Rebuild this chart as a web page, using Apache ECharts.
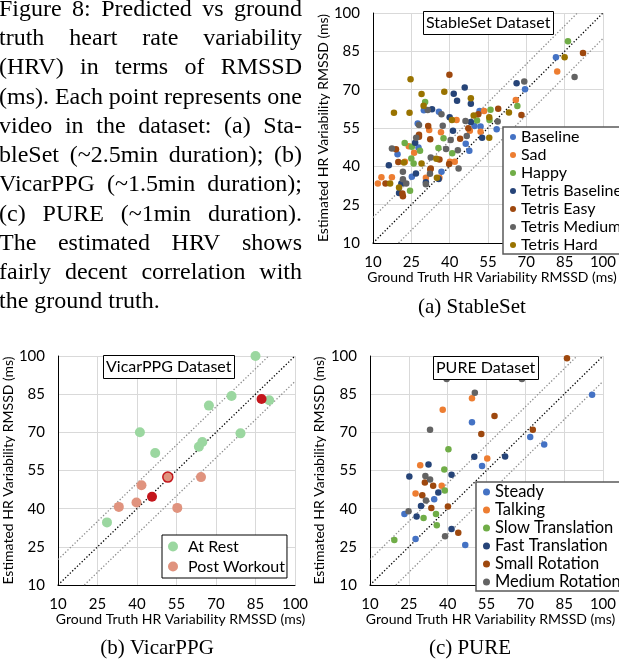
<!DOCTYPE html>
<html>
<head>
<meta charset="utf-8">
<script src="https://cdn.jsdelivr.net/npm/echarts@6/dist/echarts.min.js"></script>
<style>
  html, body { margin: 0; padding: 0; background: #fff; }
  #chart { width: 619px; height: 661px; }
</style>
</head>
<body>
<div id="chart"></div>
<script>
// ---- data ----
var axisTicks = { min: 10, max: 100, step: 15 };

var captionLines = [
  "Figure 8: Predicted vs ground",
  "truth heart rate variability",
  "(HRV) in terms of RMSSD",
  "(ms). Each point represents one",
  "video in the dataset: (a) Sta-",
  "bleSet (~2.5min duration); (b)",
  "VicarPPG (~1.5min duration);",
  "(c) PURE (~1min duration).",
  "The estimated HRV shows",
  "fairly decent correlation with",
  "the ground truth."
];

// reference lines: y = x, y = x + 10, y = x - 10
var identityLine = [[10, 10], [100, 100]];
var upperLine = [[10, 20], [90, 100]];
var lowerLine = [[20, 10], [100, 90]];

// (a) StableSet
var baseline = [[81.6,82.7],[69.5,70.2],[29.9,61.9],[35.8,61.4],[51.7,61.7],[27.5,56.8],[49.7,55.8],[52.1,55.6],
  [46.3,48.8],[47.7,46.1],[19.6,44.7],[27.8,47.4],[25.2,35.9],[36.8,37.9],[58.4,54.5]];
var sad = [[82.1,77.1],[65.9,66.0],[53.5,61.7],[42.7,58.1],[32.0,54.2],[47.9,53.9],[36.6,53.3],[24.0,47.9],
  [26.1,45.3],[40.1,41.8],[42.0,41.8],[22.5,41.8],[13.3,35.7],[17.4,35.7],[11.9,33.3],[30.7,35.5],[36.0,35.5],[52.1,53.5]];
var happy = [[86.3,88.9],[30.4,65.2],[56.0,62.1],[66.5,63.6],[55.6,58.1],[50.7,57.9],[37.6,51.0],[22.4,49.1],
  [25.2,47.7],[28.4,46.1],[35.6,47.2],[41.0,45.1],[25.0,43.1],[25.9,41.1],[24.5,30.4]];
var tetrisBaseline = [[66.2,72.5],[45.9,70.8],[41.6,68.4],[42.9,65.7],[48.3,64.5],[33.1,62.3],[40.0,59.2],[48.3,57.3],
  [41.3,53.9],[52.7,51.2],[26.5,49.2],[16.2,40.4],[26.8,37.2],[30.7,33.8],[20.2,29.6],[35.7,35.0],[21.1,33.3]];
var tetrisEasy = [[92.2,84.3],[39.9,75.8],[59.0,62.5],[68.1,60.1],[51.2,60.4],[31.6,55.8],[28.0,51.6],[32.4,50.6],
  [44.1,50.8],[19.0,46.7],[19.9,41.7],[32.6,39.2],[36.0,42.7],[39.8,40.9],[14.9,33.3],[21.5,29.4],[21.7,28.3],
  [32.4,38.8],[47.3,54.9],[28.0,52.4]];
var tetrisMedium = [[88.9,75.0],[69.2,73.2],[31.4,62.0],[36.8,60.4],[37.3,55.9],[46.2,57.7],[28.0,56.2],[26.9,51.2],
  [40.4,50.3],[46.7,51.9],[43.2,46.3],[17.4,47.0],[38.6,46.8],[32.6,43.5],[21.7,37.9],[21.7,34.9],[23.0,33.3],
  [30.7,33.0],[32.3,37.1],[43.5,39.2],[58.8,57.5]];
var tetrisHard = [[85.0,82.7],[24.7,74.1],[37.9,69.2],[29.0,68.3],[48.3,66.6],[29.8,63.7],[18.2,61.0],[24.3,61.0],
  [49.4,59.9],[55.5,59.2],[40.9,58.1],[63.2,61.1],[55.5,51.2],[22.1,41.5],[29.0,41.1],[34.8,43.0],[16.7,33.3],
  [20.2,31.7],[35.0,35.5]];

// (b) VicarPPG
var atRest = [[85,100],[75.9,84.3],[67.3,80.5],[90.2,82.6],[41.1,70.0],[79.3,69.6],[64.8,66.2],[63.5,64.3],[46.9,61.9],[28.6,34.6]];
var postWorkout = [[33.1,40.7],[39.8,42.4],[41.7,49.2],[55.3,40.3],[64.3,52.4]];
var postWorkoutDark = [[45.7,44.7],[87.3,83.1]];
var postWorkoutRing = [[51.7,52.4]];

// (c) PURE
var steady = [[95.8,84.8],[71.9,68.2],[77.3,65.2],[49.4,74.0],[53.3,56.8],[34.8,43.7],[23.3,37.9],[27.6,28.1],[46.8,25.7]];
var talking = [[49.4,83.4],[38.1,78.9],[29.4,57.1],[55.3,59.7],[27.6,46.0],[37.7,49.0]];
var slowTranslation = [[40.3,63.4],[38.7,55.4],[38.9,47.1],[35.5,37.9],[30.7,36.3],[35.8,33.5],[19.4,27.7]];
var fastTranslation = [[50.3,60.4],[62.2,60.5],[32.6,57.4],[25.2,52.6],[41.5,53.3],[36.4,46.4],[29.7,41.0],[28.0,36.9],[41.5,32.0]];
var smallRotation = [[86.1,99.1],[58.1,76.4],[72.9,71.0],[53.0,69.3],[31.2,50.3],[34.4,49.0],[30.2,45.3],[33.7,40.3],[40.1,40.9],[44.1,30.5]];
var mediumRotation = [[39.6,91.0],[68.7,91.0],[50.5,85.6],[33.2,71.0],[31.4,52.8],[33.2,51.5],[31.6,43.2],[24.9,39.0],[39.0,29.2]];

// ---- styling ----
var SANS = 'Lato, "Liberation Sans", sans-serif';
var SERIF = '"Liberation Serif", "Times New Roman", serif';
var C = {
  blue: '#4472C4', orange: '#ED7D31', green: '#70AD47', navy: '#264478',
  brown: '#9E480E', gray: '#636363', olive: '#997300',
  restGreen: '#9bd7a0', salmon: '#e0937e', darkRed: '#c4161c'
};

var grids = [
  { left: 373, top: 13, width: 238, height: 230 },
  { left: 57, top: 356, width: 238, height: 229 },
  { left: 370, top: 356, width: 235, height: 229 }
];
var yNameGaps = [34, 40, 44];

function makeAxis(dim, i) {
  var isX = dim === 'x';
  return {
    type: 'value',
    gridIndex: i,
    min: axisTicks.min,
    max: axisTicks.max,
    interval: axisTicks.step,
    name: isX ? 'Ground Truth HR Variability RMSSD (ms)' : 'Estimated HR Variability RMSSD (ms)',
    nameLocation: 'middle',
    nameGap: isX ? 25 : yNameGaps[i],
    nameTextStyle: { fontFamily: SANS, fontSize: 14, color: '#000',
      padding: isX ? [0, 0, 0, 8] : 0 },
    axisLine: { show: true, onZero: false, lineStyle: { color: '#000', width: 1 } },
    axisTick: { show: false },
    axisLabel: { fontFamily: SANS, fontSize: 15, color: '#000', margin: isX ? 12 : 13 },
    splitLine: { show: true, lineStyle: { color: '#d9d9d9', width: 1 } }
  };
}

function refLines(i) {
  var mk = function (data, color) {
    return {
      type: 'line', xAxisIndex: i, yAxisIndex: i, data: data, symbol: 'none', silent: true, z: 1,
      lineStyle: { color: color, width: 1.3, type: [1.3, 2] }
    };
  };
  return [mk(upperLine, '#8c8c8c'), mk(lowerLine, '#8c8c8c'), mk(identityLine, '#000')];
}

function dots(name, data, color, i, size, extra) {
  var s = {
    type: 'scatter', name: name, data: data, xAxisIndex: i, yAxisIndex: i,
    symbolSize: size, itemStyle: { color: color, opacity: 1 }, z: 3
  };
  if (extra) s.itemStyle = Object.assign(s.itemStyle, extra);
  return s;
}

function caption() {
  var font = '24px ' + SERIF;
  var ctx = document.createElement('canvas').getContext('2d');
  ctx.font = font;
  var L = -1, R = 302, out = [];
  captionLines.forEach(function (line, i) {
    var words = line.split(' ');
    var widths = words.map(function (w) { return ctx.measureText(w).width; });
    var total = widths.reduce(function (a, b) { return a + b; }, 0);
    var last = i === captionLines.length - 1;
    var gap = last ? ctx.measureText(' ').width : (R - L - total) / (words.length - 1);
    var x = L;
    words.forEach(function (w, j) {
      out.push({
        type: 'text', x: x, y: 9.5 + i * 29.25, silent: true,
        style: { text: w, font: font, fill: '#000', textVerticalAlign: 'middle' }
      });
      x += widths[j] + gap;
    });
  });
  return out;
}

function subCaption(text, x, y) {
  return { type: 'text', x: x, y: y, silent: true,
    style: { text: text, font: '21px ' + SERIF, fill: '#000', textAlign: 'center', textVerticalAlign: 'middle' } };
}

function boxTitle(text, left, top) {
  return {
    text: text, left: left, top: top, padding: [4, 3],
    borderColor: '#000', borderWidth: 1, backgroundColor: '#fff',
    textStyle: { fontFamily: SANS, fontSize: 16, fontWeight: 'normal', color: '#000' }
  };
}

function boxLegend(names, left, top, opts) {
  return {
    data: names, orient: 'vertical', left: left, top: top,
    icon: 'circle', itemWidth: opts.iw, itemHeight: opts.ih, itemGap: 0,
    padding: opts.padding, backgroundColor: '#fff',
    borderColor: opts.border, borderWidth: opts.bw, borderRadius: 0,
    textStyle: { fontFamily: SANS, fontSize: opts.fs, lineHeight: opts.lh, color: '#000' },
    selectedMode: false
  };
}

var series = [].concat(
  refLines(0), refLines(1), refLines(2),
  [
    dots('Baseline', baseline, C.blue, 0, 6.5),
    dots('Sad', sad, C.orange, 0, 6.5),
    dots('Happy', happy, C.green, 0, 6.5),
    dots('Tetris Baseline', tetrisBaseline, C.navy, 0, 6.5),
    dots('Tetris Easy', tetrisEasy, C.brown, 0, 6.5),
    dots('Tetris Medium', tetrisMedium, C.gray, 0, 6.5),
    dots('Tetris Hard', tetrisHard, C.olive, 0, 6.5),

    dots('At Rest', atRest, C.restGreen, 1, 10),
    dots('Post Workout', postWorkout, C.salmon, 1, 10),
    dots('Post Workout', postWorkoutDark, C.darkRed, 1, 10),
    dots('Post Workout', postWorkoutRing, C.salmon, 1, 10, { borderColor: C.darkRed, borderWidth: 1.5 }),

    dots('Steady', steady, C.blue, 2, 6.5),
    dots('Talking', talking, C.orange, 2, 6.5),
    dots('Slow Translation', slowTranslation, C.green, 2, 6.5),
    dots('Fast Translation', fastTranslation, C.navy, 2, 6.5),
    dots('Small Rotation', smallRotation, C.brown, 2, 6.5),
    dots('Medium Rotation', mediumRotation, C.gray, 2, 6.5)
  ]
);

var option = {
  animation: false,
  backgroundColor: '#fff',
  title: [
    boxTitle('StableSet Dataset', 423, 11),
    boxTitle('VicarPPG Dataset', 103, 355),
    boxTitle('PURE Dataset', 433, 356)
  ],
  legend: [
    boxLegend(['Baseline', 'Sad', 'Happy', 'Tetris Baseline', 'Tetris Easy', 'Tetris Medium', 'Tetris Hard'],
      503, 127, { iw: 6, ih: 6, fs: 16, lh: 18, padding: [1, 30, 0, 7], border: '#595959', bw: 1.5 }),
    boxLegend(['At Rest', 'Post Workout'],
      162, 535, { iw: 20, ih: 10, fs: 16, lh: 20, padding: [1.5, 2, 1.5, 6], border: '#000', bw: 1 }),
    boxLegend(['Steady', 'Talking', 'Slow Translation', 'Fast Translation', 'Small Rotation', 'Medium Rotation'],
      476, 482, { iw: 7, ih: 7, fs: 16.5, lh: 18, padding: [1, 30, 0, 7], border: '#595959', bw: 1.5 })
  ],
  grid: grids,
  xAxis: [makeAxis('x', 0), makeAxis('x', 1), makeAxis('x', 2)],
  yAxis: [makeAxis('y', 0), makeAxis('y', 1), makeAxis('y', 2)],
  series: series,
  graphic: caption().concat([
    subCaption('(a) StableSet', 472, 307),
    subCaption('(b) VicarPPG', 157, 648),
    subCaption('(c) PURE', 470, 648)
  ])
};

var myChart = echarts.init(document.getElementById('chart'), null, { renderer: 'canvas' });
myChart.setOption(option);
</script>
</body>
</html>
